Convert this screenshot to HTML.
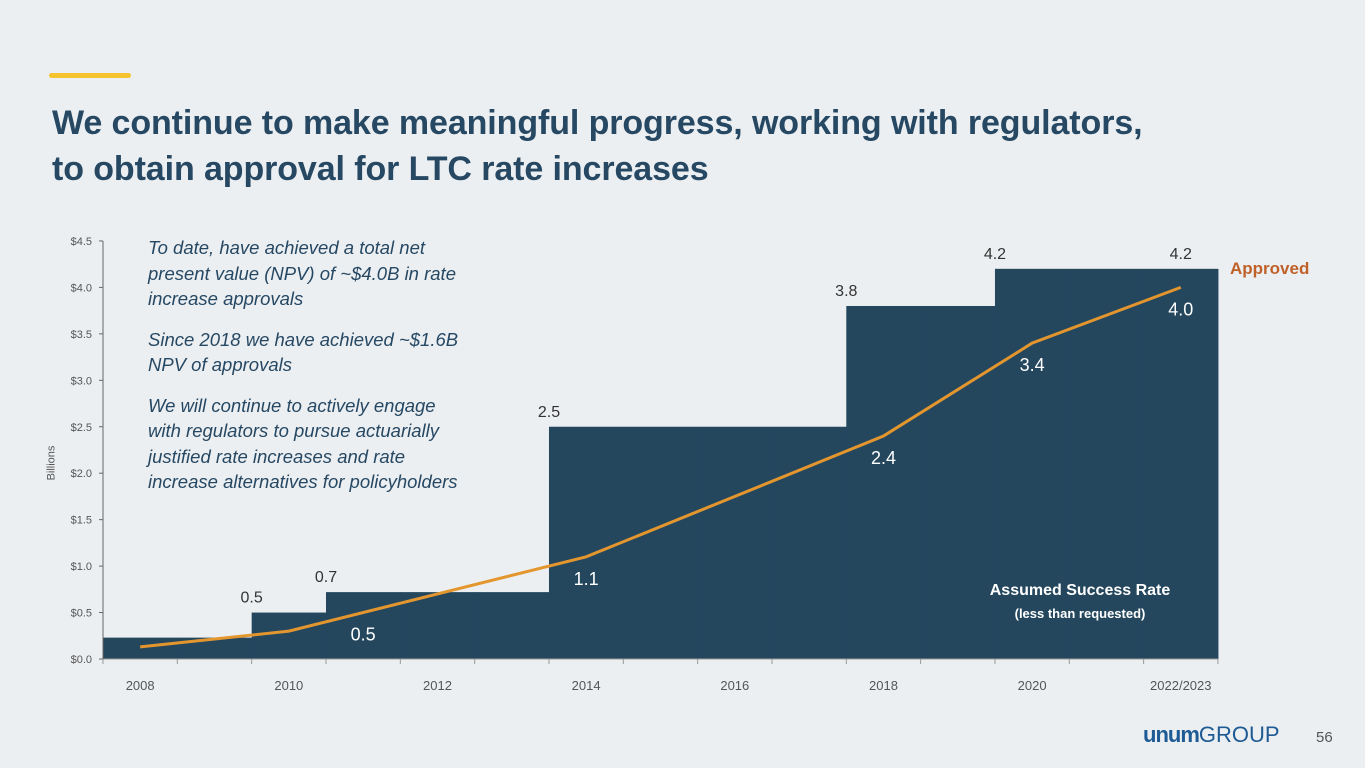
<!DOCTYPE html>
<html><head><meta charset="utf-8"><style>
body{margin:0;width:1365px;height:768px;background:#eceff2;font-family:"Liberation Sans",sans-serif;overflow:hidden;position:relative}
.t{position:absolute}
</style></head><body>
<div class="t" style="left:49px;top:73px;width:82px;height:5px;background:#f5c230;border-radius:3px"></div>
<div class="t" style="left:52px;top:100px;font-size:34px;font-weight:bold;color:#264863;line-height:46px;letter-spacing:-0.1px">We continue to make meaningful progress, working with regulators,<br>to obtain approval for LTC rate increases</div>
<svg class="t" style="left:0;top:0" width="1365" height="768">
<g id="g"></g>
</svg>
<div class="t" style="left:148px;top:235px;width:360px;font-size:18.5px;font-style:italic;color:#264863;line-height:25.5px;white-space:nowrap">
<div style="margin-bottom:15px">To date, have achieved a total net<br>present value (NPV) of ~$4.0B in rate<br>increase approvals</div>
<div style="margin-bottom:15px">Since 2018 we have achieved ~$1.6B<br>NPV of approvals</div>
<div>We will continue to actively engage<br>with regulators to pursue actuarially<br>justified rate increases and rate<br>increase alternatives for policyholders</div></div>
<div class="t" style="left:1230px;top:259px;font-size:17px;font-weight:bold;color:#c0612a">Approved</div>
<div class="t" style="left:960px;top:582px;width:240px;text-align:center;color:#fff;font-weight:bold;font-size:16px">Assumed Success Rate<div style="font-size:13px;margin-top:6px">(less than requested)</div></div>
<div class="t" style="left:34px;top:457px;font-size:11px;color:#555;transform:rotate(-90deg)">Billions</div>
<div class="t" style="left:1143px;top:722px;font-size:22px;color:#1e5a94"><b style="letter-spacing:-1px">unum</b>GROUP</div>
<div class="t" style="left:1316px;top:729px;font-size:15px;color:#555">56</div>
<script>
const categories=["2008","2009","2010","2011","2012","2013","2014","2015","2016","2017","2018","2019","2020","2021","2022/2023"];
const approved=[0.23,0.23,0.5,0.72,0.72,0.72,2.5,2.5,2.5,2.5,3.8,3.8,4.2,4.2,4.2];
const approvedLabels=[[2,"0.5"],[3,"0.7"],[6,"2.5"],[10,"3.8"],[12,"4.2"],[14,"4.2"]];
const lineIdx=[0,2,6,10,12,14];
const lineVals=[0.13,0.3,1.1,2.4,3.4,4.0];
const lineLabels=[[3,0.5,"0.5"],[6,1.1,"1.1"],[10,2.4,"2.4"],[12,3.4,"3.4"],[14,4.0,"4.0"]];
const yTicks=[0,0.5,1,1.5,2,2.5,3,3.5,4,4.5];
const x0=103,sw=74.33,y0=659,py=92.9;
const X=i=>x0+i*sw, Xc=i=>x0+(i+0.5)*sw, Y=v=>y0-v*py;
const g=document.getElementById('g');const NS="http://www.w3.org/2000/svg";
function el(t,a,txt){const e=document.createElementNS(NS,t);for(const k in a)e.setAttribute(k,a[k]);if(txt!=null)e.textContent=txt;g.appendChild(e);return e;}
approved.forEach((v,i)=>{const r=el('rect',{x:X(i),y:Y(v),width:sw+0.5,height:v*py,fill:'#24475e'});

});
el('line',{x1:x0,y1:Y(0),x2:X(15),y2:Y(0),stroke:'#999'});
el('line',{x1:x0,y1:Y(4.5),x2:x0,y2:Y(0),stroke:'#666'});
for(let i=0;i<=15;i++)el('line',{x1:X(i),y1:y0,x2:X(i),y2:y0+5,stroke:'#999'});
yTicks.forEach(v=>{el('line',{x1:x0-4,y1:Y(v),x2:x0,y2:Y(v),stroke:'#666'});
const t=el('text',{x:92,y:Y(v)+4,'text-anchor':'end','font-size':11,fill:'#555'},'$'+v.toFixed(1));

});
categories.forEach((c,i)=>{if(i%2)return;const t=el('text',{x:Xc(i),y:690,'text-anchor':'middle','font-size':13,fill:'#555'},c);

});
approvedLabels.forEach(([i,s])=>{const v=approved[i];const xx=i==14?Xc(i):X(i);const t=el('text',{x:xx,y:Y(v)-10,'text-anchor':'middle','font-size':16,fill:'#333'},s);

});
const pts=lineIdx.map((i,k)=>Xc(i)+','+Y(lineVals[k])).join(' ');
const pl=el('polyline',{points:pts,fill:'none',stroke:'#e4962e','stroke-width':3});


lineLabels.forEach(([i,v,s])=>{const t=el('text',{x:Xc(i),y:Y(v)+28,'text-anchor':'middle','font-size':18,fill:'#fff'},s);

});
</script>
</body></html>
